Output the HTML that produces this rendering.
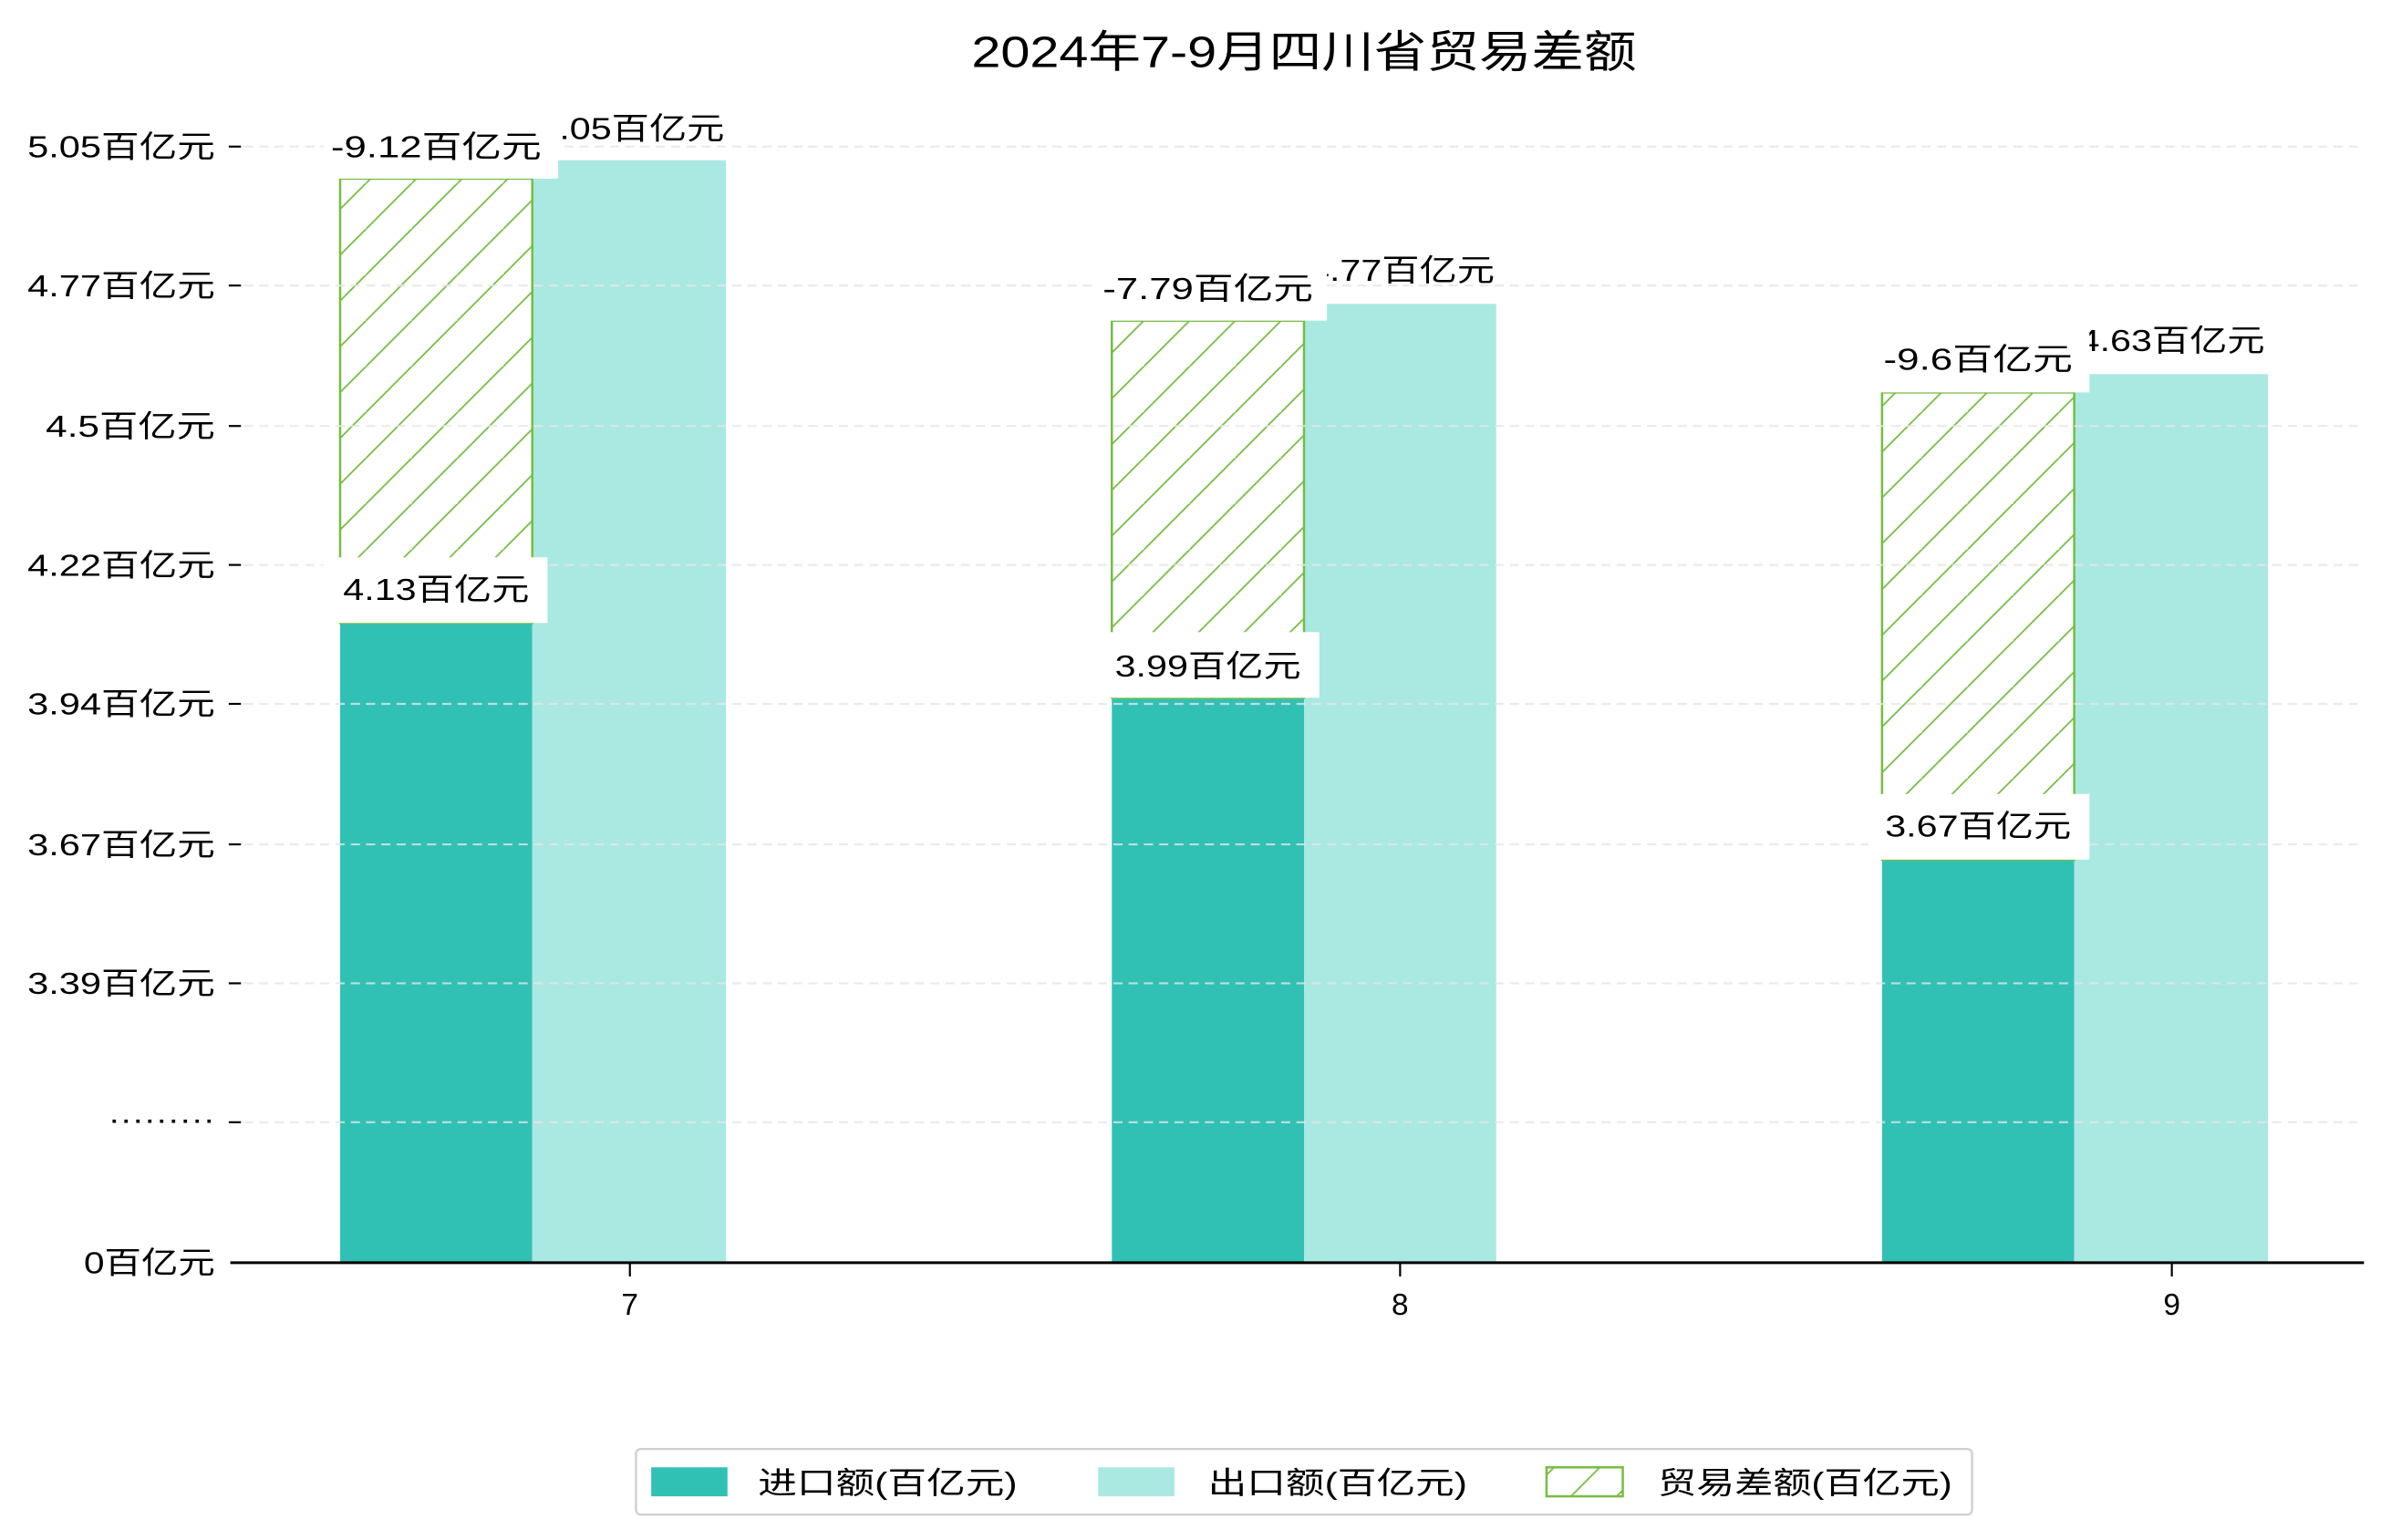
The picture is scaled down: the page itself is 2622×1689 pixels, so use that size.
<!DOCTYPE html>
<html><head><meta charset="utf-8"><style>html,body{margin:0;padding:0;background:#fff}svg{display:block}</style></head>
<body>
<svg width="2622" height="1689" viewBox="0 0 1567.7 1008.6" preserveAspectRatio="none" xmlns="http://www.w3.org/2000/svg" font-family="'Liberation Sans','Noto Sans CJK SC',sans-serif">
<defs>
<pattern id="h" patternUnits="userSpaceOnUse" width="30" height="30">
<path d="M-5,35 L35,-5 M-35,35 L5,-5 M25,65 L65,25" stroke="#76bd42" stroke-width="1.1"/>
</pattern>
</defs>
<rect width="1600" height="1020" fill="#fff"/>
<text x="855" y="44" font-size="29" text-anchor="middle" textLength="436" lengthAdjust="spacingAndGlyphs">2024年7-9月四川省贸易差额</text>
<g>
<rect x="223" y="408" width="126" height="419" fill="#31c1b4"/>
<rect x="349" y="105" width="127" height="722" fill="#aae8e2"/>
<rect x="729" y="457" width="126" height="370" fill="#31c1b4"/>
<rect x="855" y="199" width="126" height="628" fill="#aae8e2"/>
<rect x="1234" y="563" width="126" height="264" fill="#31c1b4"/>
<rect x="1360" y="245" width="127" height="582" fill="#aae8e2"/>
</g>
<g fill="url(#h)" stroke="#76bd42" stroke-width="1.5">
<rect x="223" y="117" width="126" height="291"/>
<rect x="729" y="210" width="126" height="247"/>
<rect x="1234" y="257" width="126" height="306"/>
</g>
<g stroke="#e6e6e6" stroke-width="1.3" stroke-dasharray="6 4" opacity="0.8">
<line x1="160" y1="96" x2="1550" y2="96"/><line x1="160" y1="187" x2="1550" y2="187"/>
<line x1="160" y1="279" x2="1550" y2="279"/><line x1="160" y1="370" x2="1550" y2="370"/>
<line x1="160" y1="461" x2="1550" y2="461"/><line x1="160" y1="553" x2="1550" y2="553"/>
<line x1="160" y1="644" x2="1550" y2="644"/><line x1="160" y1="735" x2="1550" y2="735"/>
</g>
<g stroke="#000" stroke-width="1.3">
<line x1="150" y1="96" x2="158" y2="96"/><line x1="150" y1="187" x2="158" y2="187"/>
<line x1="150" y1="279" x2="158" y2="279"/><line x1="150" y1="370" x2="158" y2="370"/>
<line x1="150" y1="461" x2="158" y2="461"/><line x1="150" y1="553" x2="158" y2="553"/>
<line x1="150" y1="644" x2="158" y2="644"/><line x1="150" y1="735" x2="158" y2="735"/>
<line x1="413" y1="827" x2="413" y2="836"/><line x1="918" y1="827" x2="918" y2="836"/><line x1="1424" y1="827" x2="1424" y2="836"/>
</g>
<line x1="151" y1="827" x2="1550" y2="827" stroke="#000" stroke-width="1.8"/>
<g font-size="20" text-anchor="end">
<text x="141" y="103" textLength="123" lengthAdjust="spacingAndGlyphs">5.05百亿元</text><text x="141" y="194" textLength="123" lengthAdjust="spacingAndGlyphs">4.77百亿元</text>
<text x="141" y="286" textLength="111" lengthAdjust="spacingAndGlyphs">4.5百亿元</text><text x="141" y="377" textLength="123" lengthAdjust="spacingAndGlyphs">4.22百亿元</text>
<text x="141" y="468" textLength="123" lengthAdjust="spacingAndGlyphs">3.94百亿元</text><text x="141" y="560" textLength="123" lengthAdjust="spacingAndGlyphs">3.67百亿元</text>
<text x="141" y="651" textLength="123" lengthAdjust="spacingAndGlyphs">3.39百亿元</text><text x="141" y="740" textLength="70" lengthAdjust="spacingAndGlyphs">·········</text>
<text x="141" y="834" textLength="86" lengthAdjust="spacingAndGlyphs">0百亿元</text>
</g>
<g font-size="20" text-anchor="middle">
<text x="413" y="861">7</text><text x="918" y="861">8</text><text x="1424" y="861">9</text>
</g>
<g font-size="20" text-anchor="middle">
<text x="414" y="91" textLength="122" lengthAdjust="spacingAndGlyphs">5.05百亿元</text>
<text x="919" y="184" textLength="122" lengthAdjust="spacingAndGlyphs">4.77百亿元</text>
<text x="1424" y="230" textLength="122" lengthAdjust="spacingAndGlyphs">4.63百亿元</text>
</g>
<g fill="#fff">
<rect x="212" y="75" width="154" height="42"/><rect x="212" y="365" width="147" height="43"/>
<rect x="718" y="168" width="152" height="42"/><rect x="718" y="414" width="147" height="43"/>
<rect x="1225" y="215" width="145" height="42"/><rect x="1225" y="520" width="145" height="43"/>
</g>
<g font-size="20" text-anchor="middle">
<text x="286" y="103" textLength="138" lengthAdjust="spacingAndGlyphs">-9.12百亿元</text><text x="286" y="393" textLength="122" lengthAdjust="spacingAndGlyphs">4.13百亿元</text>
<text x="792" y="196" textLength="138" lengthAdjust="spacingAndGlyphs">-7.79百亿元</text><text x="792" y="443" textLength="122" lengthAdjust="spacingAndGlyphs">3.99百亿元</text>
<text x="1297" y="242" textLength="124" lengthAdjust="spacingAndGlyphs">-9.6百亿元</text><text x="1297" y="548" textLength="122" lengthAdjust="spacingAndGlyphs">3.67百亿元</text>
</g>
<rect x="417" y="949" width="876" height="43" rx="3" fill="#fff" stroke="#cccccc" stroke-width="1.3"/>
<rect x="427" y="961" width="50" height="19" fill="#31c1b4"/>
<rect x="720" y="961" width="50" height="19" fill="#aae8e2"/>
<rect x="1014" y="961" width="50" height="19" fill="url(#h)" stroke="#76bd42" stroke-width="1.5"/>
<g font-size="20">
<text x="497" y="978" textLength="170" lengthAdjust="spacingAndGlyphs">进口额(百亿元)</text>
<text x="792" y="978" textLength="170" lengthAdjust="spacingAndGlyphs">出口额(百亿元)</text>
<text x="1087" y="978" textLength="193" lengthAdjust="spacingAndGlyphs">贸易差额(百亿元)</text>
</g>
</svg>
</body></html>
